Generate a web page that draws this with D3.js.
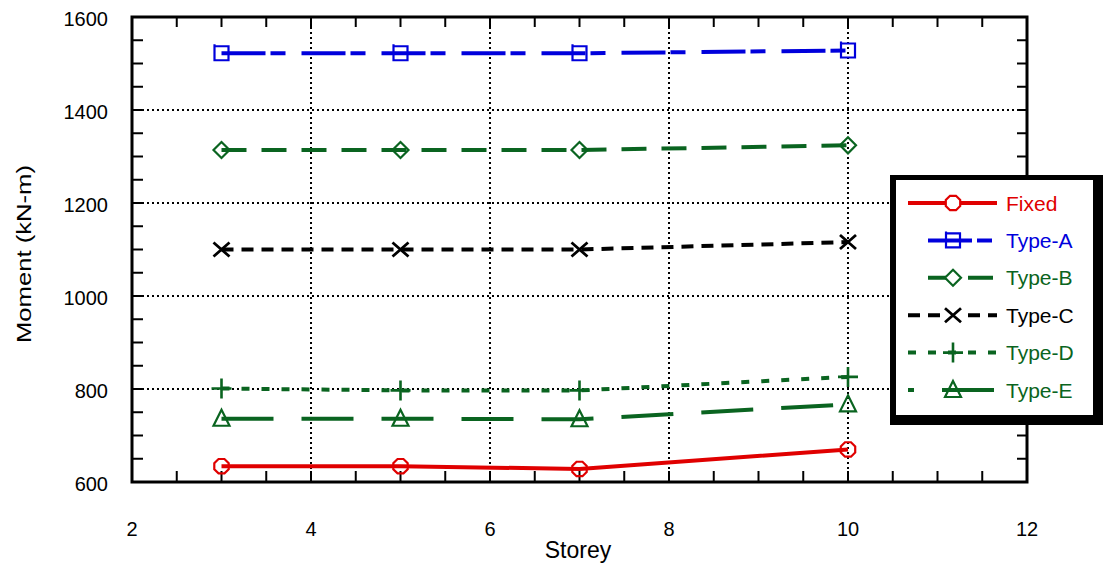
<!DOCTYPE html>
<html>
<head>
<meta charset="utf-8">
<script src="https://cdn.jsdelivr.net/npm/d3@7"></script>
<style>
  body { margin: 0; background: #fff; }
  svg { display: block; font-family: "Liberation Sans", Arial, sans-serif; }
</style>
</head>
<body>
<svg width="1104" height="564"></svg>
<script>
// data
const storeys = [3, 5, 7, 10];
const fixed = [634, 634, 628, 670];
const typeA = [1522, 1522, 1522, 1528];
const typeB = [1314, 1314, 1314, 1324];
const typeC = [1100, 1100, 1100, 1116];
const typeD = [801, 797, 797, 826];
const typeE = [736, 736, 735, 767];

const seriesNames = ["Fixed", "Type-A", "Type-B", "Type-C", "Type-D", "Type-E"];
const xTicks = [2, 4, 6, 8, 10, 12];
const yTicks = [600, 800, 1000, 1200, 1400, 1600];

const green = "#0a6420";
const series = [
  { name: seriesNames[0], values: fixed, color: "#e00000", dash: null, marker: "octagon" },
  { name: seriesNames[1], values: typeA, color: "#0000dc", dash: "44,5,15,16", marker: "square" },
  { name: seriesNames[2], values: typeB, color: green, dash: "25,15", marker: "diamond" },
  { name: seriesNames[3], values: typeC, color: "#000", dash: "12,8", marker: "cross" },
  { name: seriesNames[4], values: typeD, color: green, dash: "8,12", marker: "plus" },
  { name: seriesNames[5], values: typeE, color: green, dash: "52,28", marker: "triangle" },
];

const svg = d3.select("svg");
const plotL = 132, plotR = 1027, plotT = 17, plotB = 482;

const x = d3.scaleLinear().domain([2, 12]).range([plotL, plotR]);
const y = d3.scaleLinear().domain([600, 1600]).range([plotB, plotT]);

// grid
const grid = svg.append("g")
  .attr("stroke", "#000")
  .attr("stroke-width", 2)
  .attr("stroke-dasharray", "2,3");
grid.selectAll(".gx")
  .data(xTicks.slice(1, -1))
  .join("line")
  .attr("x1", (d) => x(d)).attr("x2", (d) => x(d))
  .attr("y1", plotT).attr("y2", plotB);
grid.selectAll(".gy")
  .data(yTicks.slice(1, -1))
  .join("line")
  .attr("x1", plotL).attr("x2", plotR)
  .attr("y1", (d) => y(d)).attr("y2", (d) => y(d));

// ticks on all four sides, pointing in
const xMinor = d3.range(2, 12.01, 0.5);
const yMinor = d3.range(600, 1600.1, 50);
const ticks = svg.append("g").attr("stroke", "#000").attr("stroke-width", 2);
ticks.selectAll(".tb")
  .data(xMinor)
  .join("line")
  .attr("x1", (d) => x(d)).attr("x2", (d) => x(d))
  .attr("y1", plotB).attr("y2", plotB - 11);
ticks.selectAll(".tt")
  .data(xMinor)
  .join("line")
  .attr("x1", (d) => x(d)).attr("x2", (d) => x(d))
  .attr("y1", plotT).attr("y2", plotT + 10);
ticks.selectAll(".tl")
  .data(yMinor)
  .join("line")
  .attr("x1", plotL).attr("x2", plotL + 11)
  .attr("y1", (d) => y(d)).attr("y2", (d) => y(d));
ticks.selectAll(".tr")
  .data(yMinor)
  .join("line")
  .attr("x1", plotR).attr("x2", plotR - 10)
  .attr("y1", (d) => y(d)).attr("y2", (d) => y(d));

// frame
svg.append("rect")
  .attr("x", plotL).attr("y", plotT)
  .attr("width", plotR - plotL).attr("height", plotB - plotT)
  .attr("fill", "none")
  .attr("stroke", "#000")
  .attr("stroke-width", 3);

// tick labels
svg.append("g")
  .selectAll("text")
  .data(xTicks)
  .join("text")
  .attr("x", (d) => x(d))
  .attr("y", 536)
  .attr("text-anchor", "middle")
  .attr("font-size", 20)
  .text((d) => d);

svg.append("g")
  .selectAll("text")
  .data(yTicks)
  .join("text")
  .attr("x", 108)
  .attr("y", (d) => y(d) + 9)
  .attr("text-anchor", "end")
  .attr("font-size", 20)
  .text((d) => d);

// axis titles
svg.append("text")
  .attr("x", 578).attr("y", 558)
  .attr("text-anchor", "middle")
  .attr("font-size", 23)
  .text("Storey");

svg.append("text")
  .attr("transform", "translate(31,254) rotate(-90)")
  .attr("text-anchor", "middle")
  .attr("font-size", 21)
  .attr("textLength", 178)
  .attr("lengthAdjust", "spacingAndGlyphs")
  .text("Moment (kN-m)");

// markers
function marker(g, type, color) {
  let p = g.append("path")
    .attr("fill", "none")
    .attr("stroke", color)
    .attr("stroke-width", 2.2);
  if (type == "octagon") {
    let pts = d3.range(8).map((i) => {
      let a = Math.PI / 8 + (i * Math.PI) / 4;
      return [7.8 * Math.cos(a), 7.8 * Math.sin(a)];
    });
    p.attr("d", "M" + pts.join("L") + "Z");
  } else if (type == "square") {
    p.attr("d", "M-8,-7H8M-7,-9V8M-8,7H8M7,-8V8");
  } else if (type == "diamond") {
    p.attr("d", "M0,-8L8,0L0,8L-8,0Z");
  } else if (type == "cross") {
    p.attr("d", "M-8,-7L8,7M-8,7L8,-7").attr("stroke-width", 2.8);
  } else if (type == "plus") {
    p.attr("d", "M-10,0H10M0,-10V10").attr("stroke-width", 2.6);
  } else if (type == "triangle") {
    p.attr("d", "M0,-9L8,7H-8Z");
  }
}

const line = d3.line()
  .x((d, i) => x(storeys[i]))
  .y((d) => y(d));

series.forEach((s) => {
  svg.append("path")
    .datum(s.values)
    .attr("d", line)
    .attr("fill", "none")
    .attr("stroke", s.color)
    .attr("stroke-width", 4)
    .attr("stroke-dasharray", s.dash);

  svg.append("g")
    .selectAll("g")
    .data(s.values)
    .join("g")
    .attr("transform", (d, i) => `translate(${x(storeys[i])},${y(d)})`)
    .each(function () {
      marker(d3.select(this), s.marker, s.color);
    });
});

// legend
const legend = svg.append("g");
legend.append("rect")
  .attr("x", 890).attr("y", 175)
  .attr("width", 213).attr("height", 250)
  .attr("fill", "#000");
legend.append("rect")
  .attr("x", 896).attr("y", 180)
  .attr("width", 197).attr("height", 235)
  .attr("fill", "#fff");

const legendY = d3.scalePoint().domain(seriesNames).range([203, 390]);
series.forEach((s, i) => {
  let ly = legendY(s.name);
  let x0 = i == 1 || i == 2 ? 928 : 908;
  legend.append("line")
    .attr("x1", x0).attr("x2", 997)
    .attr("y1", ly).attr("y2", ly)
    .attr("stroke", s.color)
    .attr("stroke-width", 4)
    .attr("stroke-dasharray", s.dash)
    .attr("stroke-dashoffset", s.marker == "triangle" ? 46 : 0);
  let g = legend.append("g").attr("transform", `translate(953,${ly})`);
  g.append("rect")
    .attr("x", -7).attr("y", -7).attr("width", 14).attr("height", 14)
    .attr("fill", "#fff")
    .attr("opacity", s.marker == "octagon" || s.marker == "diamond" || s.marker == "cross" ? 1 : 0);
  marker(g, s.marker, s.color);
  legend.append("text")
    .attr("x", 1006).attr("y", ly + 7.5)
    .attr("font-size", 21)
    .attr("fill", s.color)
    .text(s.name);
});
</script>
</body>
</html>
